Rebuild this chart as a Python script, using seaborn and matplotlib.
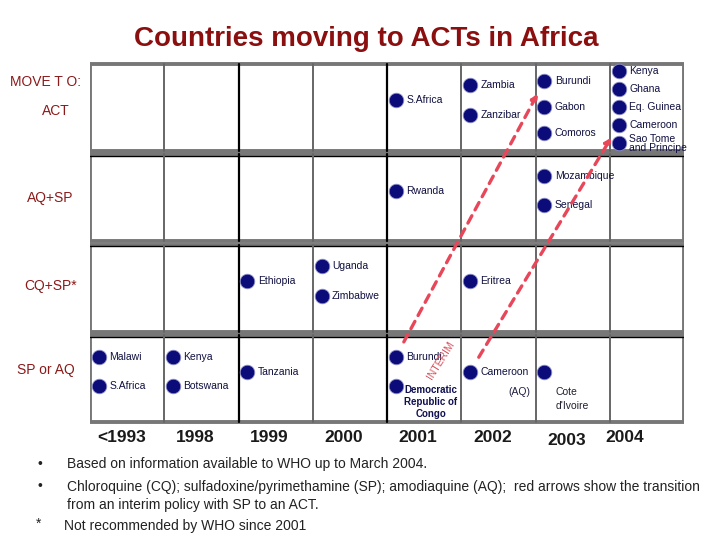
import numpy as np
import pandas as pd
import seaborn as sns
import matplotlib.pyplot as plt
from matplotlib.patches import Rectangle

# columns (years) and rows (policy) of the chart
years = ['<1993', '1998', '1999', '2000', '2001', '2002', '2003', '2004']
policies = ['ACT', 'AQ+SP', 'CQ+SP*', 'SP or AQ']

# one entry per dot, listed in the order they stack inside a cell
country = ['S.Africa', 'Zambia', 'Zanzibar', 'Burundi', 'Gabon', 'Comoros',
           'Kenya', 'Ghana', 'Eq. Guinea', 'Cameroon', 'Sao Tome\nand Principe',
           'Rwanda', 'Mozambique', 'Senegal',
           'Ethiopia', 'Uganda', 'Zimbabwe', 'Eritrea',
           'Malawi', 'S.Africa', 'Kenya', 'Botswana', 'Tanzania',
           'Burundi', 'Democratic\nRepublic of\nCongo', 'Cameroon', "Cote\nd'Ivoire"]
year = ['2001', '2002', '2002', '2003', '2003', '2003',
        '2004', '2004', '2004', '2004', '2004',
        '2001', '2003', '2003',
        '1999', '2000', '2000', '2002',
        '<1993', '<1993', '1998', '1998', '1999',
        '2001', '2001', '2002', '2003']
policy = ['ACT'] * 11 + ['AQ+SP'] * 3 + ['CQ+SP*'] * 4 + ['SP or AQ'] * 9

# red arrows: interim SP policy -> ACT (country, from year, to year)
transitions = [('Burundi', '2001', '2003'), ('Cameroon', '2002', '2004')]

notes = ['Based on information available to WHO up to March 2004.',
         'Chloroquine (CQ); sulfadoxine/pyrimethamine (SP); amodiaquine (AQ);  red arrows show the transition\nfrom an interim policy with SP to an ACT.',
         'Not recommended by WHO since 2001']

df = pd.DataFrame({'country': country, 'year': year, 'policy': policy})
df['col'] = df['year'].map({y: i for i, y in enumerate(years)})
df['row'] = df['policy'].map({p: i for i, p in enumerate(policies)})
df['rank'] = df.groupby(['year', 'policy']).cumcount()
df['n'] = df.groupby(['year', 'policy'])['country'].transform('count')
gap = 0.2 + 0.13 * (5 - df['n']) / 3
center = np.where(df['n'] >= 3, 0.5, 0.42)
df['y'] = df['row'] + center + (df['rank'] - (df['n'] - 1) / 2) * gap
df['x'] = df['col'] + 0.12

sns.set_theme(style='white')
plt.rcParams['font.family'] = ['Liberation Sans', 'DejaVu Sans']

fig = plt.figure(figsize=(7.2, 5.4), dpi=100)
ax = fig.add_axes([90 / 720, 1 - 424 / 540, 594 / 720, 362 / 540])

# bands and grid lines
for r in range(4):
    ax.add_patch(Rectangle((0, r + 0.02), 8, 0.96, fill=False, edgecolor='#777777', lw=2.8, zorder=1))
    if r > 0:
        ax.plot([0, 8], [r + 0.035, r + 0.035], color='black', lw=1.0, zorder=1)
    for c in range(1, 8):
        dark = c in (2, 4)
        ax.plot([c, c], [r + 0.02, r + 0.98], color='black' if dark else '#666666',
                lw=1.6 if dark else 1.4, zorder=1)

sns.scatterplot(data=df, x='x', y='y', ax=ax, s=110, color='#0b0b7a',
                edgecolor='#9090c8', linewidth=0.6, zorder=3, legend=False)
ax.set_xlim(0, 8)
ax.set_ylim(4, 0)
ax.axis('off')

for _, d in df.iterrows():
    name = d['country']
    if name.startswith('Democratic'):
        ax.text(d['x'] + 0.47, d['y'] - 0.02, name, ha='center', va='top', fontsize=7,
                fontweight='bold', color='#101050', linespacing=1.3, zorder=4)
    elif name.startswith('Cote'):
        ax.text(d['x'] + 0.15, d['y'] + 0.17, name, ha='left', va='top', fontsize=7.5,
                color='#202030', linespacing=1.5, zorder=4)
    else:
        ax.text(d['x'] + 0.14, d['y'], name, ha='left', va='center', fontsize=7.5,
                color='#101040', linespacing=0.95, zorder=4)
        if name == 'Cameroon' and d['policy'] == 'SP or AQ':
            ax.text(d['x'] + 0.52, d['y'] + 0.23, '(AQ)', ha='left', va='center',
                    fontsize=7.5, color='#202040', zorder=4)

for name, y0, y1 in transitions:
    a = df[(df['country'] == name) & (df['year'] == y0)].iloc[0]
    b = df[(df['country'] == name) & (df['year'] == y1)].iloc[0]
    ax.annotate('', xy=(b['x'], b['y']), xytext=(a['x'], a['y']),
                arrowprops=dict(arrowstyle='-|>', color='#e8475a', lw=2.4, ls=(0, (2.5, 2)),
                                shrinkA=12, shrinkB=10, mutation_scale=9), zorder=5)

# "INTERIM" along first arrow
ax.text(4.72, 3.3, 'INTERIM', rotation=58, ha='center', va='center', fontsize=7.5,
        color='#d8505a', zorder=5)

# row labels on the left
lab = dict(color='#8b1a1a', fontsize=10, ha='center', va='center', transform=ax.get_yaxis_transform())
ax.text(-0.075, 0.22, 'MOVE T O:', **lab)
ax.text(-0.058, 0.54, 'ACT', **lab)
ax.text(-0.067, 1.5, 'AQ+SP', **lab)
ax.text(-0.067, 2.48, 'CQ+SP*', **lab)
ax.text(-0.075, 3.4, 'SP or AQ', **lab)

# year labels
for i, y in enumerate(years):
    dx = 0.2 if y == '2004' else 0.42
    yy = 4.18 if y == '2003' else 4.15
    ax.text(i + dx, yy, y, ha='center', va='center', fontsize=12.5, fontweight='bold',
            color='#1a1a1a')

fig.text(0.508, 0.928, 'Countries moving to ACTs in Africa', ha='center', va='center',
         fontsize=20, fontweight='bold', color='#8b0f0f')

# footnotes
fig.text(38 / 720, 1 - 464 / 540, '\u2022', fontsize=10, va='center', color='#222222')
fig.text(67 / 720, 1 - 464 / 540, notes[0], fontsize=10, va='center', color='#222222')
fig.text(38 / 720, 1 - 486 / 540, '\u2022', fontsize=10, va='center', color='#222222')
fig.text(67 / 720, 1 - 496 / 540, notes[1], fontsize=10, va='center', color='#222222', linespacing=1.45)
fig.text(36 / 720, 1 - 524 / 540, '*', fontsize=10, va='center', color='#222222')
fig.text(64 / 720, 1 - 526 / 540, notes[2], fontsize=10, va='center', color='#222222')

fig.savefig('out.png', dpi=100, facecolor='white')
